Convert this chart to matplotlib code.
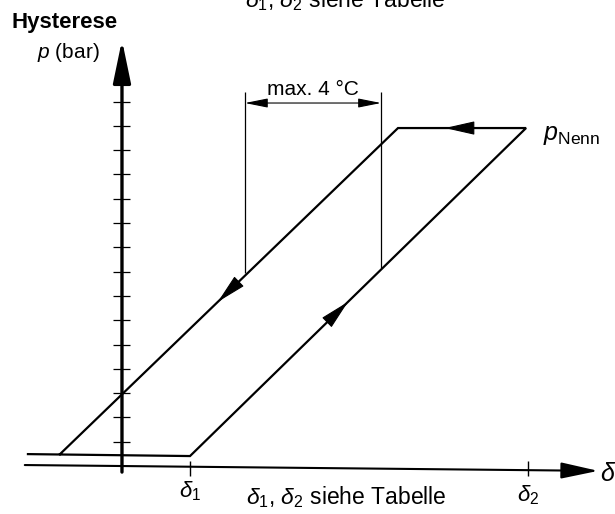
import matplotlib.pyplot as plt
import numpy as np

plt.rcParams['font.family'] = ['Liberation Sans', 'DejaVu Sans']
plt.rcParams['mathtext.fontset'] = 'custom'
plt.rcParams['mathtext.rm'] = 'Liberation Sans'
plt.rcParams['mathtext.it'] = 'Liberation Sans:italic'
plt.rcParams['mathtext.bf'] = 'Liberation Sans:bold'

# schematic values (x = temperature, p = pressure in tick units)
p_ticks = np.arange(1, 16)
delta_1 = 2.8
delta_2 = 16.7
loop_x = [-3.87, 2.80, 16.63, 11.36, -2.55]
loop_p = [0.49, 0.41, 13.91, 13.91, 0.49]
band_x = [5.06, 10.66]          # "max. 4 °C" width
band_bottom = [7.94, 8.15]
band_top = 15.39
band_p = 14.94
# direction arrows on the loop: (segment start, segment end, t_base, t_tip)
loop_arrows = [(1, 2, 0.41, 0.47), (2, 3, 0.446, 0.634), (3, 4, 0.467, 0.533)]

fig = plt.figure(figsize=(6.15, 5.14), dpi=100)
ax = fig.add_axes([0, 0, 1, 1])
ax.set_xlim(-5.02, 20.29)
ax.set_ylim(-1.975, 19.18)
ax.axis('off')

# axes
ax.annotate('', xy=(0, 17.53), xytext=(0, -0.25),
            arrowprops=dict(arrowstyle='-|>,head_length=26,head_width=5.4',
                            mutation_scale=1, lw=2.4, color='black',
                            shrinkA=0, shrinkB=0))
ax.annotate('', xy=(19.6, -0.2), xytext=(-4.0, 0.04),
            arrowprops=dict(arrowstyle='-|>,head_length=23,head_width=5',
                            mutation_scale=1, lw=1.5, color='black',
                            shrinkA=0, shrinkB=0))
ax.hlines(p_ticks, -0.37, 0.33, color='black', lw=0.9)
ax.vlines([delta_1, delta_2], -0.4, 0.2, color='black', lw=1.0)

# hysteresis loop
ax.plot(loop_x, loop_p, color='black', lw=1.6, solid_joinstyle='miter')
for i, j, tb, tt in loop_arrows:
    x0, y0, x1, y1 = loop_x[i], loop_p[i], loop_x[j], loop_p[j]
    base = (x0 + tb * (x1 - x0), y0 + tb * (y1 - y0))
    tip = (x0 + tt * (x1 - x0), y0 + tt * (y1 - y0))
    ax.annotate('', xy=tip, xytext=base,
                arrowprops=dict(arrowstyle='-|>,head_length=19,head_width=4.3',
                                mutation_scale=1, lw=0.8, color='black',
                                shrinkA=0, shrinkB=0))

# band width dimension
ax.vlines(band_x, band_bottom, band_top, color='black', lw=0.9)
ax.annotate('', xy=(band_x[0], band_p), xytext=(band_x[1], band_p),
            arrowprops=dict(arrowstyle='<|-|>,head_length=14,head_width=2.8',
                            mutation_scale=1, lw=0.8, color='black',
                            shrinkA=0, shrinkB=0))
ax.text(np.mean(band_x), 15.27, 'max. 4 °C', ha='center', va='baseline', fontsize=15)

# labels
ax.text(-4.53, 18.02, 'Hysterese', ha='left', va='baseline', fontsize=16, fontweight='bold')
ax.text(-3.5, 16.79, r'$p$ (bar)', ha='left', va='baseline', fontsize=15)
ax.text(17.33, 13.42, r'$p_{\mathrm{Nenn}}$', ha='left', va='baseline', fontsize=18)
ax.text(delta_1, -1.28, r'$\delta_1$', ha='center', va='baseline', fontsize=16)
ax.text(delta_2, -1.45, r'$\delta_2$', ha='center', va='baseline', fontsize=16)
ax.text(19.67, -0.6, r'$\delta$', ha='left', va='baseline', fontsize=18)
ax.text(9.22, -1.56, r'$\delta_1$, $\delta_2$ siehe Tabelle', ha='center', va='baseline', fontsize=16.5)
ax.text(9.18, 18.89, r'$\delta_1$, $\delta_2$ siehe Tabelle', ha='center', va='baseline', fontsize=16.5)

fig.savefig('out.png', dpi=100)
